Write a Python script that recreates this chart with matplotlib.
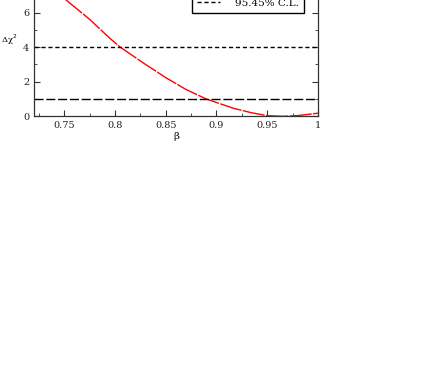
import matplotlib.pyplot as plt
from matplotlib.ticker import MultipleLocator

# chi2 scan
beta = [0.72, 0.735, 0.75, 0.775, 0.795, 0.805, 0.83, 0.851, 0.87, 0.89,
        0.917, 0.935, 0.95, 0.965, 0.98, 1.0]
dchi2 = [8.3, 7.5, 6.8, 5.6, 4.5, 4.0, 3.0, 2.2, 1.55, 1.0,
         0.46, 0.2, 0.04, 0.0, 0.04, 0.18]
cl_levels = [1.0, 4.0]
cl_labels = ["68.27% C.L.", "95.45% C.L."]

plt.rcParams['font.family'] = 'DejaVu Serif'

fig = plt.figure(figsize=(4.36, 3.82), dpi=100)
ax = fig.add_axes([0.078, 0.6955, 0.651, 0.3623])

ax.plot(beta, dchi2, color="red", lw=1.0, linestyle=(0, (16, 1)))
ax.axhline(cl_levels[0], color="black", lw=1.0, linestyle=(0, (6.5, 2)), label=cl_labels[0])
ax.axhline(cl_levels[1], color="black", lw=1.0, linestyle=(0, (3, 2)), label=cl_labels[1])

ax.set_xlim(0.72, 1.0)
ax.set_ylim(0, 8)
ax.xaxis.set_minor_locator(MultipleLocator(0.025))
ax.yaxis.set_major_locator(MultipleLocator(2))
ax.yaxis.set_minor_locator(MultipleLocator(1))
ax.set_xticks([0.75, 0.8, 0.85, 0.9, 0.95, 1.0])
ax.set_xticklabels(["0.75", "0.8", "0.85", "0.9", "0.95", "1"])
ax.tick_params(which="both", direction="in", top=True, right=True,
               labelsize=7, colors="#333333", labelcolor="#222222")
ax.tick_params(which="major", length=4, width=0.8)
ax.tick_params(which="minor", length=2, width=0.6)
for s in ax.spines.values():
    s.set_linewidth(0.9)
    s.set_color("#333333")

ax.set_xlabel("β", fontsize=7.5, labelpad=1)
ax.set_ylabel("Δχ$^2$", fontsize=6, rotation=0, labelpad=10)

leg = ax.legend(loc="lower right", bbox_to_anchor=(0.951, 0.746), borderaxespad=0,
                fontsize=7.5, fancybox=False, edgecolor="black", framealpha=1,
                handlelength=2.2, handletextpad=1.4, borderpad=0.5)
leg.get_frame().set_linewidth(1.0)

fig.savefig("out.png", dpi=100)
